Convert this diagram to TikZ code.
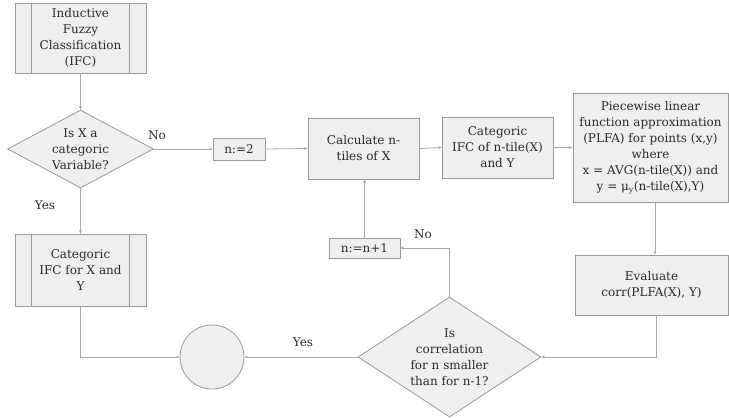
\documentclass[tikz,border=0pt]{standalone}
\usepackage{fontspec}
\setmainfont{DejaVu Serif}
\usetikzlibrary{shapes.geometric,arrows.meta}
\definecolor{boxfill}{HTML}{EFEFEF}
\definecolor{boxline}{HTML}{9A9A9A}
\definecolor{conn}{HTML}{A8A8A8}
\definecolor{txtc}{HTML}{2A2A2A}
\begin{document}
\begin{tikzpicture}[x=1pt,y=-1pt,
  every node/.style={text=txtc,font=\fontsize{12}{16}\selectfont},
  box/.style={draw=boxline,fill=boxfill,line width=0.8pt,align=center,inner sep=0pt},
  dia/.style={draw=boxline,fill=boxfill,line width=0.8pt,diamond,inner sep=0pt},
  lbl/.style={inner sep=0pt,align=center},
  conn/.style={draw=conn,line width=0.8pt},
  arr/.style={conn,-{Stealth[length=3.5pt,width=3pt]}}]
\useasboundingbox (0,0) rectangle (729,418);
% process boxes
\node[box,minimum width=131pt,minimum height=70pt] (ifc) at (80.5,38) {Inductive\\Fuzzy\\Classification\\(IFC)};
\draw[boxline,line width=0.8pt] ([xshift=17pt]ifc.north west) -- ([xshift=17pt]ifc.south west)
  ([xshift=-17pt]ifc.north east) -- ([xshift=-17pt]ifc.south east);
\node[dia,minimum width=146pt,minimum height=78pt] (d1) at (80.5,149) {};
\node[lbl] (d1t) at (d1) {Is X a\\categoric\\Variable?};
\node[box,minimum width=131pt,minimum height=72pt] (cif) at (80.5,270) {Categoric\\IFC for X and\\Y};
\draw[boxline,line width=0.8pt] ([xshift=17pt]cif.north west) -- ([xshift=17pt]cif.south west)
  ([xshift=-17pt]cif.north east) -- ([xshift=-17pt]cif.south east);
\node[box,minimum width=52pt,minimum height=22pt] (n2) at (239,149) {n:=2};
\node[box,minimum width=111pt,minimum height=61pt] (calc) at (363.5,148.5) {Calculate n-\\tiles of X};
\node[box,minimum width=111pt,minimum height=61pt] (cat) at (497.5,147.5) {Categoric\\IFC of n-tile(X)\\and Y};
\node[box,minimum width=155pt,minimum height=109pt] (plfa) at (650.5,147.5) {Piecewise linear\\function approximation\\(PLFA) for points (x,y)\\where\\x = AVG(n-tile(X)) and\\y = μ\textsubscript{y}(n-tile(X),Y)};
\node[box,minimum width=153pt,minimum height=60pt] (eval) at (651.5,285) {Evaluate\\corr(PLFA(X), Y)};
\node[box,minimum width=71pt,minimum height=20pt] (n1) at (364.5,248) {n:=n+1};
\node[dia,minimum width=183pt,minimum height=120pt] (d2) at (449.5,357) {};
\node[lbl] (d2t) at (d2) {Is\\correlation\\for n smaller\\than for n-1?};
\node[draw=boxline,fill=boxfill,line width=0.8pt,circle,minimum size=64pt,inner sep=0pt] (end) at (212,357) {};
% connectors
\draw[arr] (ifc.south) -- (d1.north);
\draw[arr] (d1.east) -- (n2.west);
\draw[arr] (n2.east) -- (calc.west);
\draw[arr] (calc.east) -- (cat.west);
\draw[arr] (cat.east) -- (plfa.west);
\draw[arr] ([xshift=4.5pt]plfa.south) -- ([xshift=3.5pt]eval.north);
\draw[arr] ([xshift=4.5pt]eval.south) |- (d2.east);
\draw[arr] (d2.north) |- (n1.east);
\draw[arr] (n1.north) -- (n1.north |- calc.south);
\draw[arr] (d1.south) -- (cif.north);
\draw[arr] (cif.south) |- (end.west);
\draw[arr] (d2.west) -- (end.east);
% labels
\node[lbl] (lno1) at (157,135) {No};
\node[lbl] (lyes1) at (45,205) {Yes};
\node[lbl] (lno2) at (423,234) {No};
\node[lbl] (lyes2) at (303,342) {Yes};
\end{tikzpicture}
\end{document}
